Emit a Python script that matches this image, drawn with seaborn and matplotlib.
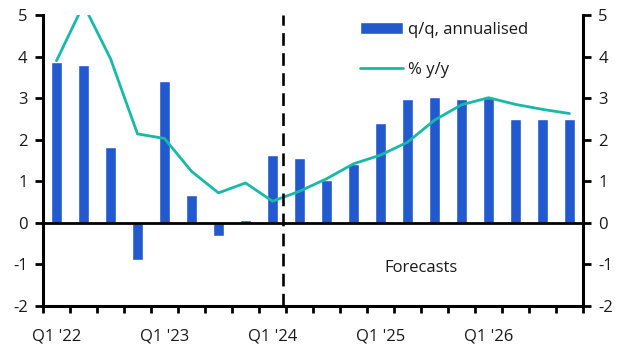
import matplotlib
matplotlib.use("Agg")
import matplotlib.pyplot as plt
import seaborn as sns
import pandas as pd
import numpy as np

quarters = ["Q1 '22", "Q2 '22", "Q3 '22", "Q4 '22",
            "Q1 '23", "Q2 '23", "Q3 '23", "Q4 '23",
            "Q1 '24", "Q2 '24", "Q3 '24", "Q4 '24",
            "Q1 '25", "Q2 '25", "Q3 '25", "Q4 '25",
            "Q1 '26", "Q2 '26", "Q3 '26", "Q4 '26"]
qq_annualised = [3.87, 3.79, 1.82, -0.89, 3.41, 0.68, -0.31, 0.07,
                 1.64, 1.55, 1.02, 1.42, 2.40, 2.97, 3.02, 2.97,
                 3.00, 2.50, 2.50, 2.50]
yy = [3.90, 5.25, 3.95, 2.14, 2.03, 1.24, 0.72, 0.96,
      0.52, 0.76, 1.06, 1.42, 1.63, 1.94, 2.47, 2.84,
      3.01, 2.85, 2.73, 2.63]
tick_labels = ["Q1 '22", "Q1 '23", "Q1 '24", "Q1 '25", "Q1 '26"]
label_quarters = [0, 4, 8, 12, 16]
forecast_start = 8.4

df = pd.DataFrame({"quarter": quarters, "qq": qq_annualised, "yy": yy})

sns.set_theme(style="white")
plt.rcParams['font.family'] = ['Open Sans', 'DejaVu Sans']
plt.rcParams['axes.unicode_minus'] = False

fig = plt.figure(figsize=(6.3, 3.55), dpi=100)
ax = fig.add_axes([43/630, 1-306/355, 540/630, 291/355])

bar_color = "#2259CE"
line_color = "#19B9A7"
text_color = "#1a1a1a"

sns.barplot(data=df, x="quarter", y="qq", color=bar_color, width=0.4,
            saturation=1, ax=ax, label="q/q, annualised")
sns.lineplot(data=df, x="quarter", y="yy", color=line_color, linewidth=2.0,
             ax=ax, label="% y/y", sort=False)

ax.set_xlim(-0.5, len(quarters) - 0.5)
ax.set_ylim(-2, 5)
ax.set_xlabel("")
ax.set_ylabel("")

ax.axhline(0, color="black", linewidth=2.0, zorder=3)
ax.axvline(forecast_start, color="black", linewidth=1.9, linestyle=(0, (4.8, 2.8)), zorder=3)

# ticks
ax.set_xticks(np.arange(-0.5, len(quarters), 1.0))
ax.set_xticklabels([])
ax.set_xticks(label_quarters, minor=True)
ax.set_xticklabels(tick_labels, minor=True)
ax.tick_params(axis="x", which="major", direction="out", length=5, width=2, color="black", bottom=True)
ax.tick_params(axis="x", which="minor", length=0, pad=16, labelsize=12, labelcolor=text_color)

ax.set_yticks(range(-2, 6))
ax.tick_params(axis="y", which="major", direction="out", length=6, width=2, color="black",
               left=True, right=True, labelleft=True, labelright=True, labelsize=12,
               labelcolor=text_color, pad=5)

for side in ["left", "right", "bottom"]:
    ax.spines[side].set_visible(True)
    ax.spines[side].set_color("black")
    ax.spines[side].set_linewidth(2.2)
ax.spines["top"].set_visible(False)

ax.text(13.5, -1.08, "Forecasts", fontsize=12, color=text_color, ha="center", va="center")

handles, labels = ax.get_legend_handles_labels()
order = [labels.index("q/q, annualised"), labels.index("% y/y")]
leg = ax.legend([handles[i] for i in order], [labels[i] for i in order],
                loc="upper left", bbox_to_anchor=(0.574, 1.0), frameon=False, fontsize=12,
                handlelength=2.6, handleheight=0.7, labelspacing=1.45, handletextpad=0.3,
                borderaxespad=0)
for t in leg.get_texts():
    t.set_color(text_color)

fig.savefig("out.png", dpi=100)
